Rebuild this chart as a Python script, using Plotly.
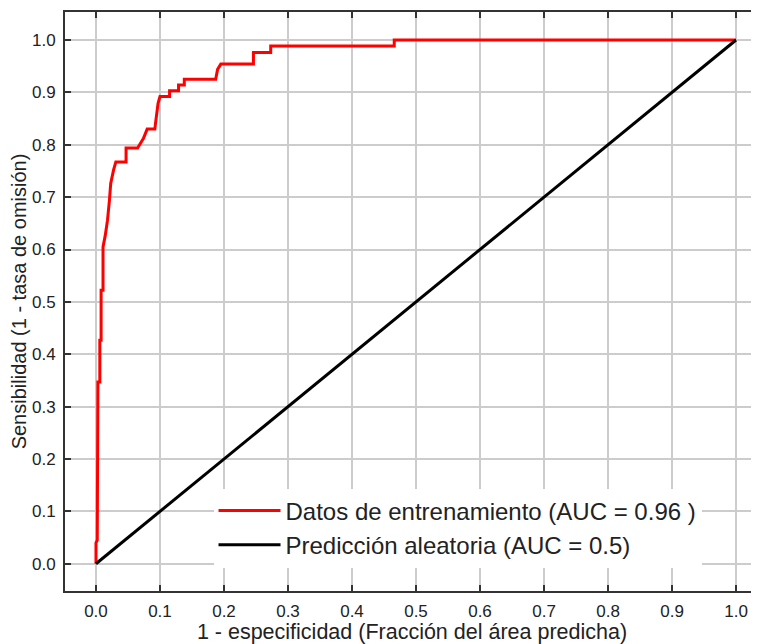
import plotly.graph_objects as go

# ROC curve: 1 - specificity (x) vs sensitivity (y)
roc_fpr = [0.000, 0.000, 0.002, 0.002, 0.003, 0.003, 0.006, 0.006, 0.008, 0.008,
           0.011, 0.011, 0.0145, 0.016, 0.018, 0.021, 0.023, 0.0275, 0.031, 0.047,
           0.047, 0.065, 0.069, 0.074, 0.080, 0.092, 0.093, 0.097, 0.100, 0.115,
           0.115, 0.129, 0.129, 0.138, 0.138, 0.187, 0.190, 0.195, 0.246, 0.246,
           0.273, 0.273, 0.466, 0.466, 1.000]
roc_tpr = [0.000, 0.040, 0.045, 0.274, 0.274, 0.347, 0.347, 0.427, 0.427, 0.522,
           0.522, 0.605, 0.627, 0.640, 0.656, 0.694, 0.726, 0.752, 0.767, 0.767,
           0.794, 0.794, 0.803, 0.812, 0.830, 0.830, 0.841, 0.879, 0.892, 0.892,
           0.903, 0.903, 0.914, 0.914, 0.925, 0.925, 0.944, 0.954, 0.954, 0.976,
           0.976, 0.9885, 0.9885, 1.000, 1.000]

random_x = [0.0, 1.0]
random_y = [0.0, 1.0]

tick_vals = [0.0, 0.1, 0.2, 0.3, 0.4, 0.5, 0.6, 0.7, 0.8, 0.9, 1.0]
tick_text = ["0.0", "0.1", "0.2", "0.3", "0.4", "0.5", "0.6", "0.7", "0.8", "0.9", "1.0"]

label_train = "Datos de entrenamiento (AUC = 0.96 )"
label_random = "Predicción aleatoria (AUC = 0.5)"
x_title = "1 - especificidad (Fracción del área predicha)"
y_title = "Sensibilidad (1 - tasa de omisión)"

FONT = "Arial, Liberation Sans, sans-serif"
TXT = "#222222"

fig = go.Figure()
fig.add_trace(go.Scatter(x=roc_fpr, y=roc_tpr, mode="lines", name=label_train,
                         legendgroup="a",
                         line=dict(color="#ff0000", width=3)))
fig.add_trace(go.Scatter(x=random_x, y=random_y, mode="lines", name=label_random,
                         legendgroup="b",
                         line=dict(color="#000000", width=3)))

axis_common = dict(
    tickvals=tick_vals, ticktext=tick_text,
    ticks="inside", ticklen=6, tickwidth=1.5, tickcolor="#333333",
    showline=True, linecolor="#333333", linewidth=2,
    showgrid=True, gridcolor="#cccccc", gridwidth=1.5,
    zeroline=False, automargin=False,
    tickfont=dict(family=FONT, size=17, color=TXT),
)

# the page body adds an 8px offset, so the figure is sized to fill the window
fig.update_layout(
    width=751, height=636,
    margin=dict(l=57, r=0, t=4, b=53),
    paper_bgcolor="white", plot_bgcolor="white",
    font=dict(family=FONT, color=TXT),
    xaxis=dict(range=[-0.0484, 1.0359], mirror="ticks",
               ticklabelstandoff=4,
               title=dict(text=x_title, font=dict(family=FONT, size=21.5, color=TXT),
                          standoff=0),
               **axis_common),
    yaxis=dict(range=[-0.052, 1.0535], mirror=False,
               ticklabelstandoff=4,
               title=dict(text=y_title, font=dict(family=FONT, size=20, color=TXT),
                          standoff=0),
               **axis_common),
    legend=dict(x=0.214, y=0.177, xanchor="left", yanchor="top",
                bgcolor="white", borderwidth=0, itemwidth=62,
                traceorder="grouped", tracegroupgap=0,
                font=dict(family=FONT, size=24, color=TXT)),
    showlegend=True,
)

fig.write_html("out.html")
